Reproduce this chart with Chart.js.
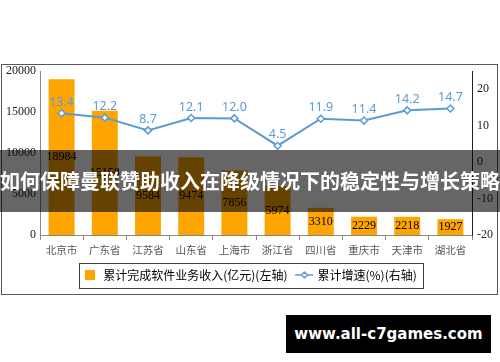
<!DOCTYPE html>
<html>
<head>
<meta charset="utf-8">
<script src="https://cdn.jsdelivr.net/npm/chart.js@4"></script>
<style>
  html, body { margin: 0; padding: 0; background: #fff; }
  #wrap { position: relative; width: 500px; height: 362px; overflow: hidden; }
  #frame { position: absolute; left: 1px; top: 64px; width: 497px; height: 231px; box-sizing: border-box; border: 1px solid #595959; }
  #chartBox { position: absolute; left: 0; top: 0; width: 500px; height: 362px; }
  #banner { position: absolute; left: 0; top: 150px; width: 500px; height: 62px; background: rgba(0,0,0,0.6);
    color: #fff; font: bold 20px "Noto Sans CJK SC", sans-serif; line-height: 62px; text-align: center; white-space: nowrap; }
  #mark { position: absolute; left: 286px; top: 315px; width: 205px; height: 38px; background: #000;
    color: #fff; font: bold 15px "DejaVu Sans", sans-serif; line-height: 38px; text-align: center; }
</style>
</head>
<body>
<div id="wrap">
  <div id="frame"></div>
  <div id="chartBox"><canvas id="barLine"></canvas></div>
  <div id="banner">如何保障曼联赞助收入在降级情况下的稳定性与增长策略</div>
  <div id="mark">www.all-c7games.com</div>
</div>
<script>
const categories = ['北京市', '广东省', '江苏省', '山东省', '上海市', '浙江省', '四川省', '重庆市', '天津市', '湖北省'];
const revenue = [18984, 15158, 9584, 9474, 7856, 5974, 3310, 2229, 2218, 1927];
const growth = [13.4, 12.2, 8.7, 12.1, 12.0, 4.5, 11.9, 11.4, 14.2, 14.7];
const leftTicks = [0, 5000, 10000, 15000, 20000];
const rightTicks = [-20, -10, 0, 10, 20];

const orange = '#FFA500';
const blue = '#5B9BD5';

// little legend icons
const sq = document.createElement('canvas');
sq.width = 10; sq.height = 10;
let g = sq.getContext('2d');
g.fillStyle = orange;
g.fillRect(0, 0, 10, 10);

const ln = document.createElement('canvas');
ln.width = 18; ln.height = 8;
g = ln.getContext('2d');
g.strokeStyle = blue;
g.lineWidth = 1.5;
g.beginPath(); g.moveTo(0, 4); g.lineTo(18, 4); g.stroke();
g.fillStyle = '#fff';
g.beginPath(); g.moveTo(9, 1); g.lineTo(12, 4); g.lineTo(9, 7); g.lineTo(6, 4); g.closePath();
g.fill(); g.stroke();

const valueLabels = {
    id: 'valueLabels',
    afterDatasetsDraw(chart) {
        const c = chart.ctx;
        c.save();
        c.textAlign = 'center';
        c.textBaseline = 'middle';
        const bars = chart.getDatasetMeta(0).data;
        c.fillStyle = '#000';
        c.font = '12px "Liberation Serif", serif';
        bars.forEach((b, i) => {
            c.fillText(revenue[i], b.x, (b.y + b.base) / 2);
        });
        const pts = chart.getDatasetMeta(1).data;
        c.fillStyle = blue;
        c.font = '12.5px "Noto Sans", sans-serif';
        pts.forEach((p, i) => {
            c.fillText(growth[i].toFixed(1), p.x, p.y - 11);
        });
        c.restore();
    }
};

const legendBox = {
    id: 'legendBox',
    afterDraw(chart) {
        const hb = chart.legend.legendHitBoxes;
        if (!hb || !hb.length) return;
        const l = Math.min(...hb.map(b => b.left));
        const r = Math.max(...hb.map(b => b.left + b.width));
        const cy = hb[0].top + hb[0].height / 2;
        const c = chart.ctx;
        c.save();
        c.strokeStyle = '#404040';
        c.lineWidth = 1;
        c.strokeRect(Math.round(l - 4) + 0.5, Math.round(cy - 12.5) + 0.5, Math.round(r - l + 10), 25);
        c.restore();
    }
};

const ctx = document.getElementById('barLine');
const barLine = new Chart(ctx, {
    type: 'bar',
    data: {
        labels: categories,
        datasets: [{
            label: '累计完成软件业务收入(亿元)(左轴)',
            data: revenue,
            backgroundColor: orange,
            barPercentage: 0.6,
            categoryPercentage: 1,
            yAxisID: 'y',
            order: 1
        }, {
            type: 'line',
            label: '累计增速(%)(右轴)',
            data: growth,
            borderColor: blue,
            borderWidth: 2,
            pointStyle: 'rectRot',
            pointRadius: 3.5,
            pointBorderWidth: 1.5,
            pointBackgroundColor: '#fff',
            pointBorderColor: blue,
            tension: 0,
            yAxisID: 'y1',
            order: 0
        }]
    },
    options: {
        responsive: true,
        maintainAspectRatio: false,
        animation: false,
        layout: { padding: { top: 71, left: 0, right: 0, bottom: 71 } },
        plugins: {
            tooltip: { enabled: false },
            legend: {
                position: 'bottom',
                labels: {
                    usePointStyle: true,
                    pointStyleWidth: 14,
                    padding: 10,
                    color: '#333',
                    font: { family: '"Noto Sans CJK SC", sans-serif', size: 12 },
                    generateLabels: () => [
                        { text: '累计完成软件业务收入(亿元)(左轴)', pointStyle: sq, fillStyle: orange, strokeStyle: orange, lineWidth: 0, datasetIndex: 0 },
                        { text: '累计增速(%)(右轴)', pointStyle: ln, fillStyle: '#fff', strokeStyle: blue, lineWidth: 0, datasetIndex: 1 }
                    ]
                }
            }
        },
        scales: {
            x: {
                grid: { display: true, drawOnChartArea: false, offset: true, tickLength: 5, color: '#888' },
                border: { color: '#888' },
                ticks: { color: '#555', padding: 4, font: { family: '"Noto Sans CJK SC", sans-serif', size: 10.5 } },
                afterFit: s => { s.height = 24; }
            },
            y: {
                position: 'left',
                min: 0,
                max: 20000,
                grid: { display: false, drawTicks: false },
                border: { color: '#888' },
                afterBuildTicks: s => { s.ticks = leftTicks.map(v => ({ value: v })); },
                ticks: { color: '#222', padding: 4, callback: v => String(v), font: { family: '"Liberation Serif", serif', size: 12 } },
                afterFit: s => { s.width = 40; }
            },
            y1: {
                position: 'right',
                min: -20,
                max: 25,
                grid: { display: false, drawTicks: false },
                border: { color: '#222' },
                afterBuildTicks: s => { s.ticks = rightTicks.map(v => ({ value: v })); },
                ticks: { color: '#222', padding: 5, callback: v => String(v), font: { family: '"Liberation Serif", serif', size: 12 } },
                afterFit: s => { s.width = 28; }
            }
        }
    },
    plugins: [valueLabels, legendBox]
});
</script>
</body>
</html>
